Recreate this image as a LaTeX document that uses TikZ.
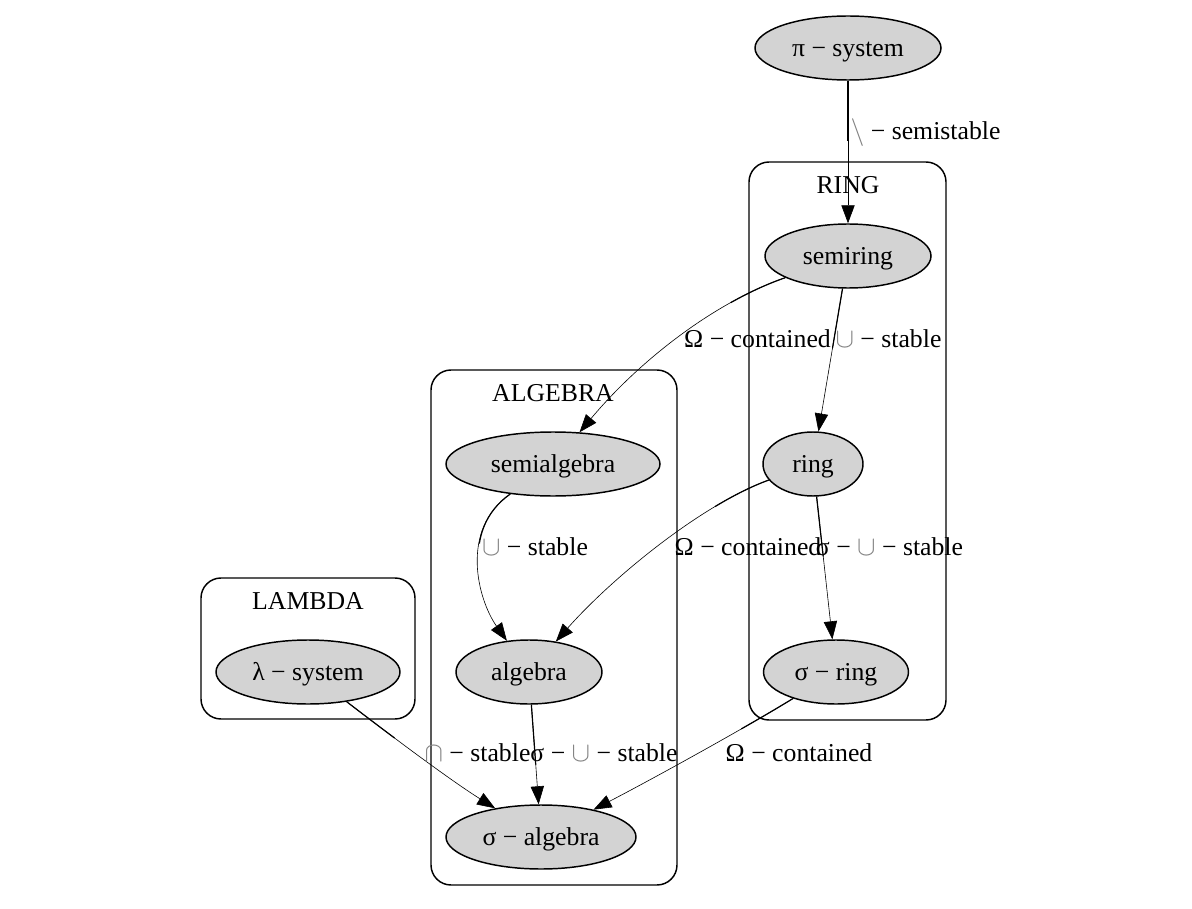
\documentclass[tikz,border=0pt]{standalone}
\usepackage{fontspec}
\setmainfont{Liberation Serif}
\usetikzlibrary{arrows.meta,shapes.geometric}
\newcommand\gcup{\textcolor{black!50}{$\cup$}}
\newcommand\gcap{\textcolor{black!50}{$\cap$}}
\newcommand\gsm{\textcolor{black!50}{$\setminus$}}
\definecolor{nodefill}{HTML}{D3D3D3}
\begin{document}
\begin{tikzpicture}[x=0.75pt,y=-0.75pt,
  font=\fontsize{19.3}{23}\selectfont,
  every node/.style={text height=1.3em,text depth=0em},
  stnode/.style={ellipse,draw,line width=1.1pt,fill=nodefill,inner sep=0pt,minimum height=48pt},
  cluster/.style={draw,line width=1.1pt,rounded corners=15pt},
  lbl/.style={inner sep=0pt,anchor=center},
  edge/.style={line width=0.45pt,-{Triangle[length=13.5pt,width=10pt]},
    postaction={draw,arrows=-,line width=0.9pt,dash pattern=on 45pt off 3000pt}}]
\useasboundingbox (0,0) rectangle (1192,909);
% clusters
\draw[cluster] (749,162) rectangle (946,720);
\draw[cluster] (431,370) rectangle (677,885);
\draw[cluster] (201,578) rectangle (415,719);
\node[lbl] (cring) at (848,185) {RING};
\node[lbl] (calg) at (553,393) {ALGEBRA};
\node[lbl] (clam) at (308,601) {LAMBDA};
% nodes
\node[stnode,minimum width=139.5pt] (pi) at (848,48) {π − system};
\node[stnode,minimum width=124.5pt] (semiring) at (848,256) {semiring};
\node[stnode,minimum width=75pt] (ring) at (813,464) {ring};
\node[stnode,minimum width=108.75pt] (sring) at (836,672) {σ − ring};
\node[stnode,minimum width=160.5pt] (semialg) at (553,464) {semialgebra};
\node[stnode,minimum width=109.5pt] (alg) at (529,672) {algebra};
\node[stnode,minimum width=142.5pt] (salg) at (541,837) {σ − algebra};
\node[stnode,minimum width=138pt] (lam) at (308,672) {λ − system};
% edges
\draw[edge] (pi) -- (semiring);
\draw[edge] (semiring) .. controls (715,302) and (640,360) .. (semialg);
\draw[edge] (semiring) -- (ring);
\draw[edge] (semialg) .. controls (459,530) and (478,600) .. (alg);
\draw[edge] (ring) .. controls (700,505) and (610,580) .. (alg);
\draw[edge] (ring) -- (sring);
\draw[edge] (lam) .. controls (390,735) and (450,780) .. (salg);
\draw[edge] (alg) -- (salg);
\draw[edge] (sring) .. controls (750,725) and (660,775) .. (salg);
% edge labels
\node[lbl] (l1) at (925.5,131) {\gsm\ − semistable};
\node[lbl] (l2) at (757.5,339) {Ω − contained};
\node[lbl] (l3) at (888.5,339) {\gcup\ − stable};
\node[lbl] (l4) at (535,547) {\gcup\ − stable};
\node[lbl] (l5) at (748,547) {Ω − contained};
\node[lbl] (l6) at (889.5,547) {σ − \gcup\ − stable};
\node[lbl] (l7) at (477.5,753) {\gcap\ − stable};
\node[lbl] (l8) at (604,753) {σ − \gcup\ − stable};
\node[lbl] (l9) at (799,753) {Ω − contained};
\end{tikzpicture}
\end{document}
